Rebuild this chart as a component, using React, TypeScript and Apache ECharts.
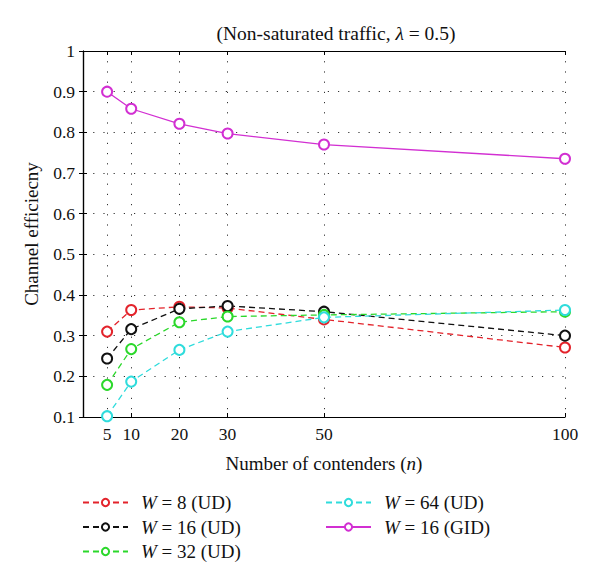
import React, { useEffect, useRef } from "react";
import * as echarts from "echarts";

const nValues = [5, 10, 20, 30, 50, 100];
const xTickValues = [5, 10, 20, 30, 50, 100];
const w8UD = [0.31, 0.363, 0.371, 0.368, 0.34, 0.271];
const w16UD = [0.244, 0.316, 0.366, 0.373, 0.359, 0.3];
const w32UD = [0.179, 0.267, 0.333, 0.347, 0.351, 0.359];
const w64UD = [0.102, 0.187, 0.265, 0.31, 0.345, 0.363];
const w16GID = [0.9, 0.858, 0.821, 0.797, 0.77, 0.735];

const seriesNames = ["W = 8 (UD)", "W = 16 (UD)", "W = 32 (UD)", "W = 64 (UD)", "W = 16 (GID)"];
const legendLabels = ["{i|W} = 8 (UD)", "{i|W} = 16 (UD)", "{i|W} = 32 (UD)", "{i|W} = 64 (UD)", "{i|W} = 16 (GID)"];
const seriesColors = ["#e3232b", "#111111", "#2bd82b", "#2fdcdc", "#d22fd2"];
const seriesData = [w8UD, w16UD, w32UD, w64UD, w16GID];
const seriesDashed = [true, true, true, true, false];

const FONT = "Liberation Serif";
const TXT = "#111";

export default function App() {
  const ref = useRef<HTMLDivElement>(null);
  useEffect(() => {
    if (!ref.current) return;
    const chart = echarts.init(ref.current, undefined, { renderer: "svg" });
    const dotted = { color: "#333", width: 1, type: [1.2, 9] as number[] };
    const richOf = (fs: number) => ({ i: { fontStyle: "italic", fontFamily: FONT, fontSize: fs, color: TXT } });
    const legendFormatter = (name: string) => legendLabels[seriesNames.indexOf(name)];
    const legendCommon = {
      orient: "vertical",
      padding: 0,
      itemWidth: 45,
      itemHeight: 9,
      itemGap: 5.5,
      formatter: legendFormatter,
      textStyle: { fontFamily: FONT, fontSize: 19, color: TXT, padding: [0, 0, 0, 8], rich: richOf(19) },
      selectedMode: false,
    };
    chart.setOption({
      animation: false,
      backgroundColor: "#fff",
      textStyle: { fontFamily: FONT },
      grid: { left: 83, right: 35, top: 51, bottom: 168 },
      graphic: [
        {
          type: "text",
          x: 336,
          y: 33,
          style: {
            text: "(Non-saturated traffic, {i|λ} = 0.5)",
            textAlign: "center",
            textVerticalAlign: "middle",
            fontFamily: FONT,
            fontSize: 19.5,
            fill: TXT,
            rich: richOf(19.5),
          },
        },
      ],
      legend: [
        { ...legendCommon, data: seriesNames.slice(0, 3), left: 82, top: 493 },
        { ...legendCommon, data: seriesNames.slice(3), left: 325, top: 493 },
      ],
      xAxis: [
        {
          type: "value",
          min: 0,
          max: 100,
          position: "bottom",
          name: "Number of contenders ({i|n})",
          nameLocation: "middle",
          nameGap: 37,
          nameTextStyle: { fontFamily: FONT, fontSize: 19, color: TXT, rich: richOf(19) },
          axisLine: { show: true, lineStyle: { color: "#000", width: 1.2 } },
          axisTick: { show: true, inside: true, length: 4, customValues: xTickValues, lineStyle: { color: "#000" } },
          axisLabel: { customValues: xTickValues, fontFamily: FONT, fontSize: 17.5, color: TXT, margin: 8 },
          splitLine: { show: true, lineStyle: dotted },
        },
        {
          type: "value",
          min: 0,
          max: 100,
          position: "top",
          axisLine: { show: true, lineStyle: { color: "#000", width: 1.2 } },
          axisTick: { show: true, inside: true, length: 4, customValues: xTickValues, lineStyle: { color: "#000" } },
          axisLabel: { show: false },
          splitLine: { show: false },
        },
      ],
      yAxis: [
        {
          type: "value",
          min: 0.1,
          max: 1,
          interval: 0.1,
          position: "left",
          name: "Channel efficiecny",
          nameLocation: "middle",
          nameGap: 42,
          nameTextStyle: { fontFamily: FONT, fontSize: 19, color: TXT },
          axisLine: { show: true, lineStyle: { color: "#000", width: 1.2 } },
          axisTick: { show: true, inside: true, length: 4, lineStyle: { color: "#000" } },
          axisLabel: {
            fontFamily: FONT,
            fontSize: 17.5,
            color: TXT,
            margin: 8,
            formatter: (v: number) => String(Math.round(v * 10) / 10),
          },
          splitLine: { show: true, lineStyle: dotted },
        },
        {
          type: "value",
          min: 0.1,
          max: 1,
          interval: 0.1,
          position: "right",
          axisLine: { show: true, lineStyle: { color: "#000", width: 1.2 } },
          axisTick: { show: true, inside: true, length: 4, lineStyle: { color: "#000" } },
          axisLabel: { show: false },
          splitLine: { show: false },
        },
      ],
      series: seriesNames.map((name, k) => ({
        name,
        type: "line",
        xAxisIndex: 0,
        yAxisIndex: 0,
        data: nValues.map((n, j) => [n, seriesData[k][j]]),
        symbol: "emptyCircle",
        symbolSize: 10,
        showAllSymbol: true,
        lineStyle: { color: seriesColors[k], width: 1.3, type: seriesDashed[k] ? [6, 4] : "solid" },
        itemStyle: { color: seriesColors[k], borderColor: seriesColors[k], borderWidth: 1.2 },
        emphasis: { disabled: true },
      })),
    });
    return () => chart.dispose();
  }, []);
  return <div ref={ref} style={{ width: 600, height: 585, margin: -8 }} />;
}
